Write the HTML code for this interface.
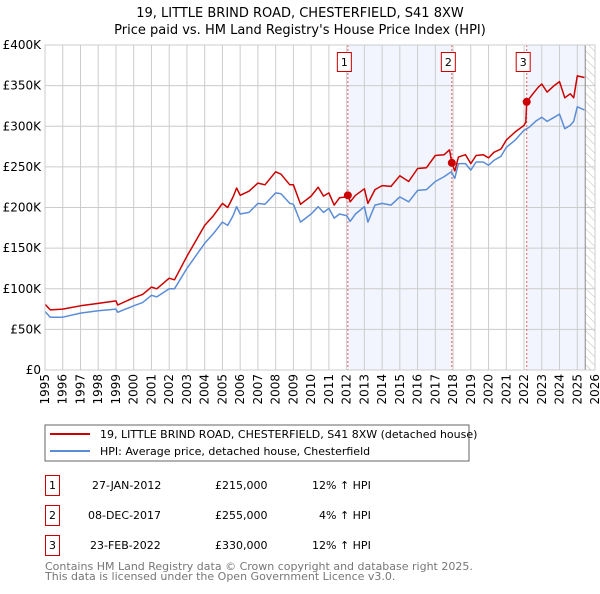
<!DOCTYPE html>
<html><head><meta charset="utf-8"><style>
body{margin:0;background:#fff;width:600px;height:590px;overflow:hidden;font-family:"DejaVu Sans","Liberation Sans",sans-serif;}
svg text{font-family:"DejaVu Sans","Liberation Sans",sans-serif;}
</style></head><body>
<svg id="c" width="600" height="590" xmlns="http://www.w3.org/2000/svg">
<defs><pattern id="hatch" width="6" height="6" patternUnits="userSpaceOnUse" patternTransform="rotate(-45)"><line x1="0" y1="0" x2="0" y2="6" stroke="#bbb" stroke-width="1"/></pattern></defs>
<text x="300" y="17" text-anchor="middle" font-size="13">19, LITTLE BRIND ROAD, CHESTERFIELD, S41 8XW</text>
<text x="300" y="34" text-anchor="middle" font-size="13">Price paid vs. HM Land Registry's House Price Index (HPI)</text>
<g id="plot"></g>
<rect x="45" y="425" width="424" height="36" fill="#fff" stroke="#666"/>
<line x1="50" y1="434" x2="90" y2="434" stroke="#cc0000" stroke-width="2"/>
<text x="100" y="438" font-size="11">19, LITTLE BRIND ROAD, CHESTERFIELD, S41 8XW (detached house)</text>
<line x1="50" y1="451" x2="90" y2="451" stroke="#5b8dd6" stroke-width="2"/>
<text x="100" y="455" font-size="11">HPI: Average price, detached house, Chesterfield</text>
<g font-size="11">
<rect x="45.5" y="475.5" width="14" height="20" fill="none" stroke="#cc0000"/><text x="52.5" y="489" text-anchor="middle">1</text>
<text x="92" y="489">27-JAN-2012</text><text x="215" y="489">£215,000</text><text x="312" y="489">12% ↑ HPI</text>
<rect x="45.5" y="505.5" width="14" height="20" fill="none" stroke="#cc0000"/><text x="52.5" y="519" text-anchor="middle">2</text>
<text x="88" y="519">08-DEC-2017</text><text x="215" y="519">£255,000</text><text x="319" y="519">4% ↑ HPI</text>
<rect x="45.5" y="535.5" width="14" height="20" fill="none" stroke="#cc0000"/><text x="52.5" y="549" text-anchor="middle">3</text>
<text x="90" y="549">23-FEB-2022</text><text x="215" y="549">£330,000</text><text x="312" y="549">12% ↑ HPI</text>
</g>
<text x="45" y="570" font-size="11" fill="#777">Contains HM Land Registry data © Crown copyright and database right 2025.</text>
<text x="45" y="580" font-size="11" fill="#777">This data is licensed under the Open Government Licence v3.0.</text>
</svg>
<script>
const hpiDates=[1995.0,1995.3,1996.0,1997.0,1998.0,1999.0,1999.1,2000.0,2000.5,2001.0,2001.3,2002.0,2002.3,2003.0,2004.0,2004.5,2005.0,2005.3,2005.6,2005.8,2006.0,2006.5,2007.0,2007.4,2008.0,2008.3,2008.8,2009.0,2009.4,2010.0,2010.4,2010.7,2011.0,2011.3,2011.6,2012.0,2012.2,2012.5,2013.0,2013.2,2013.6,2014.0,2014.5,2015.0,2015.5,2016.0,2016.5,2017.0,2017.5,2017.9,2018.1,2018.3,2018.7,2019.0,2019.3,2019.7,2020.0,2020.3,2020.7,2021.0,2021.5,2022.0,2022.3,2022.7,2023.0,2023.3,2023.7,2024.0,2024.3,2024.6,2024.8,2025.0,2025.4];
const hpiValues=[72,65,65,70,73,75,71,79,83,92,90,100,100,125,156,168,182,178,190,201,192,194,205,204,218,217,205,204,182,192,201,194,199,187,192,190,183,192,201,182,203,205,203,213,207,221,222,232,238,244,236,254,254,246,256,256,252,258,263,274,283,295,299,307,311,306,311,315,297,301,306,324,320];
const priceDates=[1995.0,1995.3,1996.0,1997.0,1998.0,1999.0,1999.1,2000.0,2000.5,2001.0,2001.3,2002.0,2002.3,2003.0,2004.0,2004.5,2005.0,2005.3,2005.6,2005.8,2006.0,2006.5,2007.0,2007.4,2008.0,2008.3,2008.8,2009.0,2009.4,2010.0,2010.4,2010.7,2011.0,2011.3,2011.6,2012.0,2012.07,2012.2,2012.5,2013.0,2013.2,2013.6,2014.0,2014.5,2015.0,2015.5,2016.0,2016.5,2017.0,2017.5,2017.8,2017.93,2018.1,2018.3,2018.7,2019.0,2019.3,2019.7,2020.0,2020.3,2020.7,2021.0,2021.5,2022.0,2022.1,2022.15,2022.5,2022.8,2023.0,2023.3,2023.7,2024.0,2024.3,2024.6,2024.8,2025.0,2025.4];
const priceValues=[81,74,75,79,82,85,80,89,93,102,100,113,111,140,178,190,205,200,213,224,215,220,230,228,244,241,228,228,204,214,225,214,218,203,212,213,215,207,215,223,205,222,227,226,239,232,248,249,264,265,271,255,245,262,265,254,264,265,261,268,272,283,293,301,305,330,340,348,352,342,350,355,335,340,335,362,360];
const saleDates=[2012.07,2017.93,2022.15];
const saleValues=[215,255,330];
const saleLabels=["1","2","3"];
const yTicks=[0,50,100,150,200,250,300,350,400];
const yTickLabels=["£0","£50K","£100K","£150K","£200K","£250K","£300K","£350K","£400K"];
const xYears=[1995,1996,1997,1998,1999,2000,2001,2002,2003,2004,2005,2006,2007,2008,2009,2010,2011,2012,2013,2014,2015,2016,2017,2018,2019,2020,2021,2022,2023,2024,2025,2026];
const dataEnd=2025.45;

const L=45,R=595,T=45,B=370,x0=1995,x1=2026,yMax=400;
const X=v=>L+(v-x0)/(x1-x0)*(R-L);
const Y=v=>B-v/yMax*(B-T);
const NS="http://www.w3.org/2000/svg";
const g=document.getElementById('plot');
function mk(tag,attrs){const e=document.createElementNS(NS,tag);for(const k in attrs)e.setAttribute(k,attrs[k]);g.appendChild(e);return e;}

for(let i=0;i<saleDates.length;i++){
  const a=saleDates[i], b=(i%2===0)?(i+1<saleDates.length?saleDates[i+1]:dataEnd):null;
  if(b===null)continue;
  const r=mk('rect',{x:X(a),y:T,width:X(b)-X(a),height:B-T,fill:'#f2f5fd'});
  
  
}
const h=mk('rect',{x:X(dataEnd),y:T,width:R-X(dataEnd),height:B-T,fill:'url(#hatch)'});


yTicks.forEach((t,i)=>{
  const l=mk('line',{x1:L,x2:R,y1:Y(t),y2:Y(t),stroke:'#ccc','stroke-width':1});
  
  
  const tx=mk('text',{x:L-4,y:Y(t)+4,'text-anchor':'end','font-size':12});
  tx.textContent=yTickLabels[i];
  
  
});
xYears.forEach(yr=>{
  const l=mk('line',{x1:X(yr),x2:X(yr),y1:T,y2:B,stroke:'#ccc','stroke-width':1});
  
  
  const tx=mk('text',{x:0,y:0,'text-anchor':'end','font-size':12,transform:`translate(${X(yr)+4},${B+4}) rotate(-90)`});
  tx.textContent=yr;
  
  
});
const ed=mk('line',{x1:X(dataEnd),x2:X(dataEnd),y1:T,y2:B,stroke:'#888','stroke-width':1});


saleDates.forEach((d,i)=>{
  const l=mk('line',{x1:X(d),x2:X(d),y1:T,y2:B,stroke:'#e06060','stroke-width':1,'stroke-dasharray':'2,2'});
  
  
  const bx=mk('rect',{x:X(d)-10.5,y:52.5,width:14,height:19,fill:'#fff',stroke:'#cc0000'});
  
  
  const t=mk('text',{x:X(d)-3.5,y:66,'text-anchor':'middle','font-size':11});
  t.textContent=saleLabels[i];
  
  
});
function line(ds,vs,color,name){
  const p=mk('polyline',{points:ds.map((d,i)=>X(d).toFixed(1)+','+Y(vs[i]).toFixed(1)).join(' '),fill:'none',stroke:color,'stroke-width':1.5,'stroke-linejoin':'round'});
  
  
}
line(hpiDates,hpiValues,'#5b8dd6','hpi-line');
line(priceDates,priceValues,'#cc0000','price-line');
saleDates.forEach((d,i)=>{
  const c=mk('circle',{cx:X(d),cy:Y(saleValues[i]),r:4,fill:'#cc0000'});
  
  
});
const fr=mk('rect',{x:L,y:T,width:R-L,height:B-T,fill:'none',stroke:'#ccc'});


</script>
</body></html>
